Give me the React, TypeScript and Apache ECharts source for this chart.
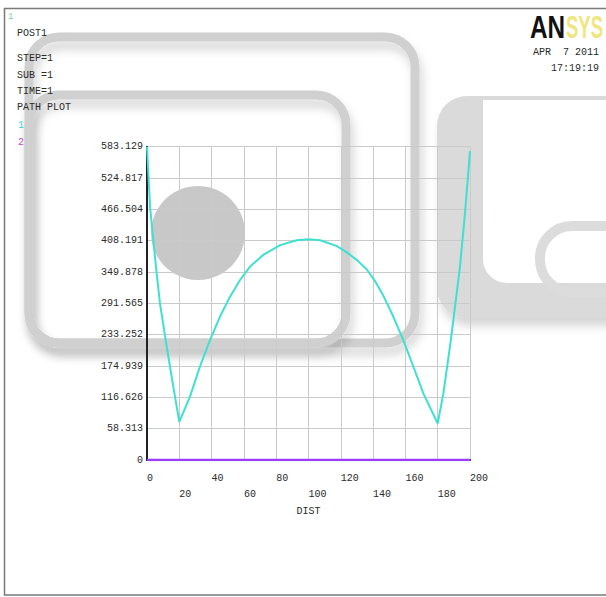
import React, { useEffect, useRef } from "react";
import * as echarts from "echarts";

// Path distance (DIST) and plotted item 1 values
const distValues = [0, 1.9, 3.9, 6.0, 8.0, 12.2, 16.3, 20, 26.6, 32.8, 39.0, 45.2, 51.4, 57.6, 63.8, 72.0, 82.4, 92.7, 100, 107.3, 117.6, 124, 130, 136, 141, 146.3, 152.5, 158.7, 164.9, 171.1, 180, 183.5, 187.6, 190.7, 193.8, 196.9, 200];
const item1Values = [583.129, 471, 409, 347, 292, 211, 136, 71, 118, 174, 223, 267, 304, 335, 360, 382, 400, 409, 411, 409, 398, 386, 372, 355, 334, 306, 267, 223, 174, 124, 68, 124, 211, 285, 360, 459, 575];
// Plotted item 2 (zero along path)
const item2Dist = [0, 200];
const item2Values = [0, 0];

const yTickLabels = ["0", "58.313", "116.626", "174.939", "233.252", "291.565", "349.878", "408.191", "466.504", "524.817", "583.129"];
const xTickLabels = ["0", "20", "40", "60", "80", "100", "120", "140", "160", "180", "200"];
const infoLines = ["POST1", "STEP=1", "SUB =1", "TIME=1", "PATH PLOT"];
const infoY = [33, 58, 75, 91, 107];
const dateLines = ["APR  7 2011", "17:19:19"];

const MONO = '"Liberation Mono", "DejaVu Sans Mono", monospace';
const Y_MAX = 583.129;
const Y_STEP = 58.3129;

export default function App() {
  const ref = useRef<HTMLDivElement>(null);
  useEffect(() => {
    document.body.style.margin = "0";
    const chart = echarts.init(ref.current!, null, { renderer: "svg" });
    const wm = "#d0d0d0";
    const wmShadow = {
      shadowBlur: 10,
      shadowColor: "rgba(0,0,0,0.16)",
      shadowOffsetX: 3,
      shadowOffsetY: 8,
    };
    const graphic: any[] = [
      // watermark (under the chart)
      {
        type: "rect", z: -10, silent: true,
        shape: { x: 29, y: 37, width: 386, height: 306, r: 30 },
        style: { fill: "none", stroke: wm, lineWidth: 9, ...wmShadow },
      },
      {
        type: "rect", z: -10, silent: true,
        shape: { x: 29, y: 95, width: 317, height: 248, r: 30 },
        style: { fill: "none", stroke: wm, lineWidth: 9, ...wmShadow },
      },
      {
        type: "circle", z: -10, silent: true,
        shape: { cx: 198, cy: 233, r: 47 },
        style: { fill: "#c8c8c8" },
      },
      {
        type: "rect", z: -10, silent: true,
        shape: { x: 437, y: 96, width: 200, height: 222, r: [30, 0, 0, 30] },
        style: { fill: "#dadada", ...wmShadow },
      },
      {
        type: "rect", z: -10, silent: true,
        shape: { x: 483, y: 100, width: 140, height: 183, r: [0, 0, 0, 24] },
        style: { fill: "#ffffff" },
      },
      {
        type: "rect", z: -10, silent: true,
        shape: { x: 540, y: 226, width: 140, height: 66, r: 32 },
        style: { fill: "none", stroke: "#dcdcdc", lineWidth: 10 },
      },
      // outer frame
      {
        type: "rect", silent: true,
        shape: { x: 4.5, y: 8.5, width: 700, height: 586.5 },
        style: { fill: "none", stroke: "#7a7a7a", lineWidth: 1.5 },
      },
      // window number and legend numbers
      { type: "text", x: 8, y: 17, style: { text: "1", fill: "#7fd6a8", font: `9px ${MONO}`, verticalAlign: "middle" } },
      { type: "text", x: 18, y: 125, style: { text: "1", fill: "#40d8c8", font: `10px ${MONO}`, verticalAlign: "middle" } },
      { type: "text", x: 18, y: 142, style: { text: "2", fill: "#c050c8", font: `10px ${MONO}`, verticalAlign: "middle" } },
      // logo
      { type: "text", x: 530, y: 11, scaleX: 0.76, style: { text: "AN", fill: "#111", font: `bold 32px "Liberation Sans", Arial, sans-serif`, verticalAlign: "top" } },
      { type: "text", x: 566, y: 11, scaleX: 0.58, style: { text: "SYS", fill: "#f0e680", font: `bold 32px "Liberation Sans", Arial, sans-serif`, verticalAlign: "top" } },
      ...infoLines.map((t, i) => ({
        type: "text", x: 17, y: infoY[i],
        style: { text: t, fill: "#2a2a2a", font: `10px ${MONO}`, verticalAlign: "middle" },
      })),
      ...dateLines.map((t, i) => ({
        type: "text", x: 599, y: 52 + i * 16,
        style: { text: t, fill: "#2a2a2a", font: `10px ${MONO}`, verticalAlign: "middle", align: "right" },
      })),
    ];

    chart.setOption({
      animation: false,
      backgroundColor: "#ffffff",
      grid: { left: 147, right: 136, top: 146.7, bottom: 137 },
      xAxis: {
        type: "value",
        min: 0,
        max: 200,
        interval: 20,
        name: "DIST",
        nameLocation: "middle",
        nameGap: 44,
        nameTextStyle: { fontFamily: MONO, fontSize: 10, color: "#2a2a2a", verticalAlign: "top" },
        axisLine: { show: true, lineStyle: { color: "#222", width: 2 } },
        axisTick: { show: false },
        splitLine: { show: true, lineStyle: { color: "#cacaca", width: 1 } },
        axisLabel: {
          fontFamily: MONO,
          fontSize: 10,
          color: "#2a2a2a",
          align: "left",
          verticalAlign: "top",
          lineHeight: 16,
          margin: 10,
          showMinLabel: true,
          showMaxLabel: true,
          formatter: (v: number) => {
            const idx = Math.round(v / 20);
            const s = xTickLabels[idx] ?? "";
            return idx % 2 === 1 ? "\n" + s : s;
          },
        },
      },
      yAxis: {
        type: "value",
        min: 0,
        max: Y_MAX,
        interval: Y_STEP,
        axisLine: { show: true, lineStyle: { color: "#222", width: 2 } },
        axisTick: { show: false },
        splitLine: { show: true, lineStyle: { color: "#cacaca", width: 1 } },
        axisLabel: {
          fontFamily: MONO,
          fontSize: 10,
          color: "#2a2a2a",
          margin: 4,
          padding: [0, 0, 6, 0],
          showMinLabel: true,
          showMaxLabel: true,
          formatter: (v: number) => yTickLabels[Math.round(v / Y_STEP)] ?? "",
        },
      },
      series: [
        {
          type: "line",
          name: "1",
          data: distValues.map((d, i) => [d, item1Values[i]]),
          symbol: "none",
          lineStyle: { color: "#3fe0d2", width: 2 },
          z: 3,
        },
        {
          type: "line",
          name: "2",
          data: item2Dist.map((d, i) => [d, item2Values[i]]),
          symbol: "none",
          lineStyle: { color: "#9b3dff", width: 2.5 },
          z: 4,
        },
      ],
      graphic,
    });
    return () => chart.dispose();
  }, []);
  return <div ref={ref} style={{ width: 606, height: 597 }} />;
}
